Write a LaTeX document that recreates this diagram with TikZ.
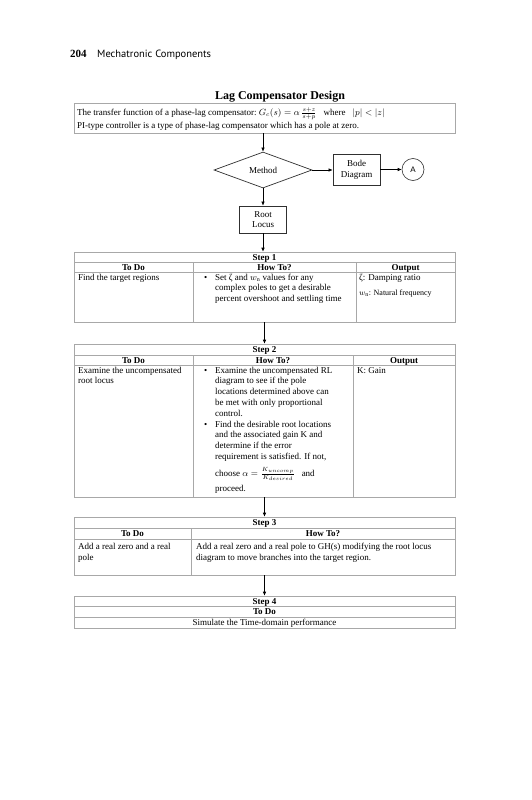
\documentclass[tikz,border=0pt]{standalone}
\usepackage{fontspec}
\setmainfont{Liberation Serif}
\newfontfamily\hdrfont{PT Sans}
\newfontfamily\arialfont{Liberation Sans}
\usetikzlibrary{shapes.geometric,arrows.meta}
\definecolor{tblc}{HTML}{A8A8A8}
\definecolor{boxc}{HTML}{303030}
\newcommand{\fs}{\fontsize{9}{10.8}\selectfont}
\newcommand{\fsb}{\fontsize{9}{10.8}\selectfont\bfseries}
\begin{document}
\begin{tikzpicture}[x=1pt,y=-1pt,
  lt/.style={anchor=base west, inner sep=0, font=\fs},
  ct/.style={anchor=base, inner sep=0, font=\fs},
  hd/.style={anchor=base, inner sep=0, font=\fsb},
  tbox/.style={rectangle, draw=tblc, line width=0.6pt, inner sep=0},
  tline/.style={draw=tblc, line width=0.6pt},
  fbox/.style={rectangle, draw=boxc, line width=0.7pt, inner sep=0, align=center, font=\fs},
  arr/.style={draw=black, line width=0.6pt, -{Latex[length=4pt,width=3.5pt]}}]
\fill[white] (0,0) rectangle (531,800);
\useasboundingbox (0,0) rectangle (531,800);

% page header
\node[lt, font=\fontsize{11}{13}\selectfont\bfseries] (pg) at (70,58) {204};
\node[lt, font=\hdrfont\fontsize{10.5}{12}\selectfont] (ttl) at (97,58) {Mechatronic Components};

% title
\node[ct, font=\fontsize{12}{14}\selectfont\bfseries] (title) at (280,99) {Lag Compensator Design};

% top box
\node[tbox, minimum width=381pt, minimum height=30pt] (top) at (264.5,118) {};
\node[lt] (t1) at (77,115) {The transfer function of a phase-lag compensator:\ $G_c(s)=\alpha\,\frac{s+z}{s+p}$\hspace{7pt}where\hspace{7pt}$|p|<|z|$};
\node[lt] (t2) at (77,128) {PI-type controller is a type of phase-lag compensator which has a pole at zero.};

% flowchart
\node[diamond, draw=boxc, line width=0.7pt, aspect=2.7, minimum width=98pt, minimum height=36pt, inner sep=0, font=\fs] (md) at (263,170) {Method};
\node[fbox, minimum width=47pt, minimum height=31pt] (bd) at (356.5,169.5) {Bode\\Diagram};
\node[circle, draw=boxc, line width=0.6pt, minimum size=22pt, inner sep=0, font=\arialfont\fontsize{8}{9}\selectfont] (ca) at (413,169.5) {A};
\node[fbox, minimum width=47pt, minimum height=27pt] (rl) at (263,219.5) {Root\\Locus};

\draw[arr] (top.south -| md.north) -- (md.north);
\draw[arr] (md.east) -- (md.east -| bd.west);
\draw[arr] (bd.east) -- (ca.west);
\draw[arr] (md.south) -- (rl.north);

% Step 1
\node[tbox, minimum width=381pt, minimum height=70pt] (s1) at (264.5,287) {};
\draw[tline] (74,262) -- (455,262);
\draw[tline] (74,272) -- (455,272);
\draw[tline] (193,262) -- (193,322);
\draw[tline] (356,262) -- (356,322);
\draw[arr] (rl.south) -- (rl.south |- s1.north);
\node[hd] (s1t) at (264.5,260) {Step 1};
\node[hd] (s1a) at (133.5,270) {To Do};
\node[hd] (s1b) at (274.5,270) {How To?};
\node[hd] (s1c) at (405.5,270) {Output};
\node[lt] (s1d) at (78,280) {Find the target regions};
\node[lt] (s1e) at (204,280) {•};
\node[lt] (s1f) at (215,280) {Set ζ and $w_{\mathrm{n}}$ values for any};
\node[lt] (s1g) at (215,290.8) {complex poles to get a desirable};
\node[lt] (s1h) at (215,301.6) {percent overshoot and settling time};
\node[lt] (s1i) at (359,280) {ζ: Damping ratio};
\node[lt, font=\fontsize{8}{9}\selectfont] (s1j) at (359,295) {$w_{\mathrm{n}}$: Natural frequency};

% Step 2
\node[tbox, minimum width=381pt, minimum height=153pt] (s2) at (264.5,420.5) {};
\draw[tline] (74,355) -- (455,355);
\draw[tline] (74,365.5) -- (455,365.5);
\draw[tline] (193,355) -- (193,497);
\draw[tline] (353,355) -- (353,497);
\draw[arr] (s1.south) -- (s2.north);
\node[hd] (s2t) at (264.5,352.5) {Step 2};
\node[hd] (s2a) at (133.5,363) {To Do};
\node[hd] (s2b) at (273,363) {How To?};
\node[hd] (s2c) at (404,363) {Output};
\node[lt] (s2d) at (78,373) {Examine the uncompensated};
\node[lt] (s2e) at (78,383.8) {root locus};
\node[lt] (s2k) at (357,373) {K: Gain};
\node[lt] (s2bu1) at (204,373) {•};
\node[lt] (s2bu2) at (204,427) {•};
\foreach \t [count=\i from 0] in {Examine the uncompensated RL, diagram to see if the pole, locations determined above can, be met with only proportional, control., Find the desirable root locations, and the associated gain K and, determine if the error, {requirement is satisfied. If not,}}
  \node[lt] (s2l\i) at (215,373+\i*10.8) {\t};
\node[lt] (s2m) at (215,476) {choose $\alpha=\frac{K_{uncomp}}{K_{desired}}$\ \ \ and};
\node[lt] (s2n) at (215,491) {proceed.};

% Step 3
\node[tbox, minimum width=381pt, minimum height=58pt] (s3) at (264.5,546) {};
\draw[tline] (74,528) -- (455,528);
\draw[tline] (74,539) -- (455,539);
\draw[tline] (191,528) -- (191,575);
\draw[arr] (s2.south) -- (s3.north);
\node[hd] (s3t) at (264.5,525.5) {Step 3};
\node[hd] (s3a) at (132.5,536.5) {To Do};
\node[hd] (s3b) at (323,536.5) {How To?};
\node[lt] (s3c) at (78,549) {Add a real zero and a real};
\node[lt] (s3d) at (78,560) {pole};
\node[lt] (s3e) at (196,549) {Add a real zero and a real pole to GH(s) modifying the root locus};
\node[lt] (s3f) at (196,560) {diagram to move branches into the target region.};

% Step 4
\node[tbox, minimum width=381pt, minimum height=32pt] (s4) at (264.5,612) {};
\draw[tline] (74,606.5) -- (455,606.5);
\draw[tline] (74,617) -- (455,617);
\draw[arr] (s3.south) -- (s4.north);
\node[hd] (s4t) at (264.5,604) {Step 4};
\node[hd] (s4a) at (264.5,614.5) {To Do};
\node[ct] (s4b) at (264.5,625.5) {Simulate the Time-domain performance};
\end{tikzpicture}
\end{document}
